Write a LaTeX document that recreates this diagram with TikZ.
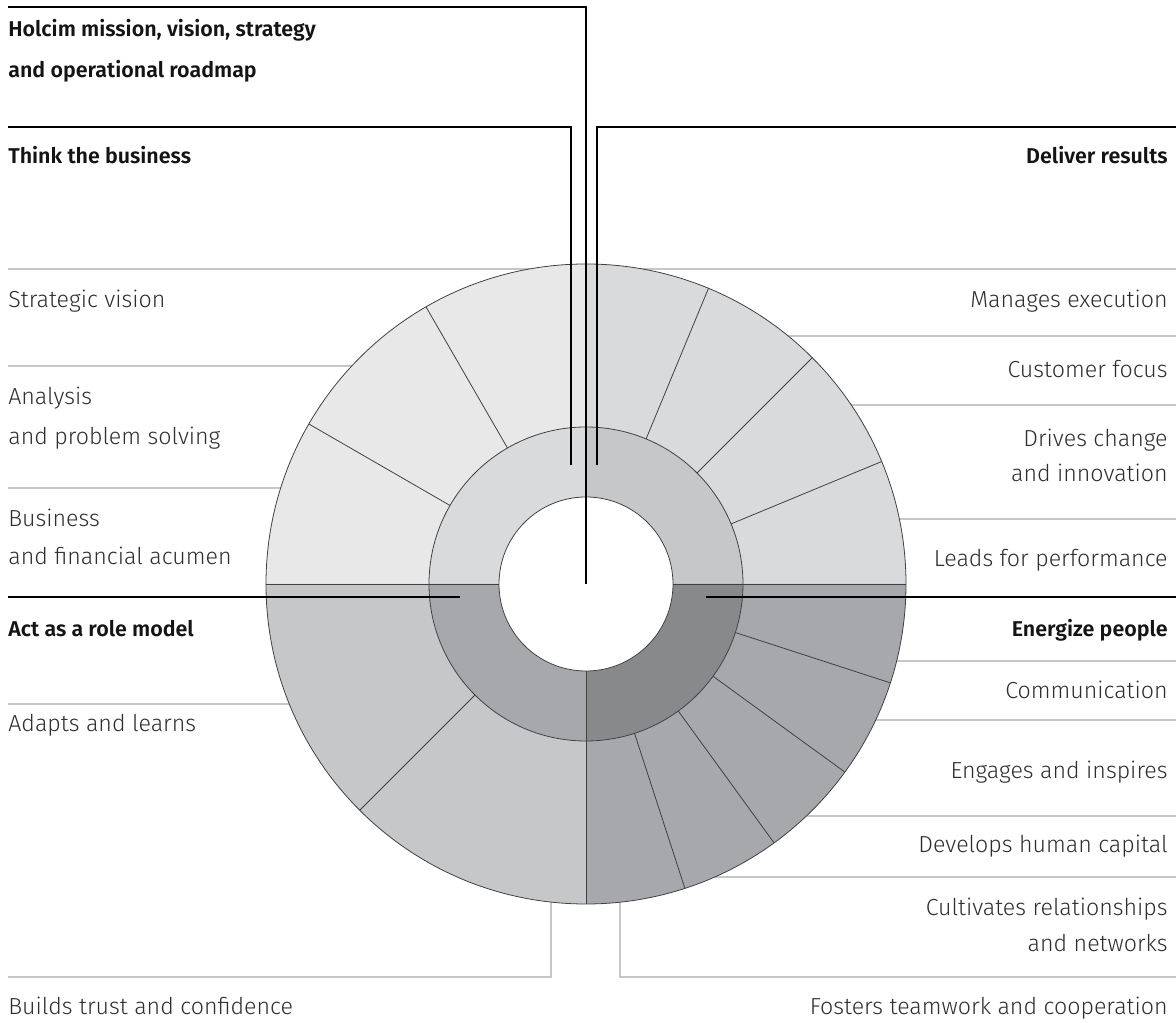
\documentclass[tikz,border=0pt]{standalone}
\usepackage{fontspec}
\setmainfont{Fira Sans}[UprightFont=* Light,BoldFont=* SemiBold]

\definecolor{ring1}{HTML}{E8E8E9}
\definecolor{ring2}{HTML}{D9DADC}
\definecolor{ring3}{HTML}{C6C7C9}
\definecolor{ring4}{HTML}{A7A8AB}
\definecolor{ring5}{HTML}{88898B}

\begin{document}
\begin{tikzpicture}[x=0.02cm,y=0.02cm]
 	\def \rin{87}
 	\def \rmid{157}
 	\def \rout{320}
 	\def \xl{-578}
 	\def \xr{590}
 	\def \xt{582}
 	\tikzstyle{thin-rule}=[draw=black!22,line width=0.6pt]
 	\tikzstyle{seg-rule}=[draw=black!75,line width=0.45pt]
 	\tikzstyle{key-rule}=[draw=black,line width=0.75pt]
 	\tikzstyle{head-l}=[anchor=base west,inner sep=0pt,font=\fontsize{12.2}{15}\selectfont\bfseries,text=black!92]
 	\tikzstyle{head-r}=[anchor=base east,inner sep=0pt,font=\fontsize{12.2}{15}\selectfont\bfseries,text=black!92]
 	\tikzstyle{item-l}=[anchor=base west,inner sep=0pt,font=\fontsize{13.2}{15}\selectfont,text=black!82]
 	\tikzstyle{item-r}=[anchor=base east,inner sep=0pt,font=\fontsize{13.2}{15}\selectfont,text=black!82]
 	\useasboundingbox (-586,-439) rectangle (590,584);
 	% grey rules between the labels
 	\foreach \y in {315,218,96,-120}
 		\draw[thin-rule] (\xl,\y) -- (0,\y);
 	\foreach \y in {315,248,179,65,-77,-136,-232,-293}
 		\draw[thin-rule] (0,\y) -- (\xr,\y);
 	\draw[thin-rule] (\xl,-393) -| (-35,0);
 	\draw[thin-rule] (\xr,-393) -| (34,0);
 	% ring sectors, start/end/inner colour/outer colour
 	\foreach \a/\b/\ci/\co in {90/180/ring2/ring1, 0/90/ring3/ring2, 180/270/ring4/ring3, 270/360/ring5/ring4}{
 		\fill[\ci] (\a:\rin) arc (\a:\b:\rin) -- (\b:\rmid) arc (\b:\a:\rmid) -- cycle;
 		\fill[\co] (\a:\rmid) arc (\a:\b:\rmid) -- (\b:\rout) arc (\b:\a:\rout) -- cycle;
 	}
 	\fill[white] (0,0) circle (\rin);
 	% outlines
 	\foreach \r in {\rin,\rmid,\rout}
 		\draw[seg-rule] (0,0) circle (\r);
 	\foreach \t in {22.5,45,67.5,120,150,225,288,306,324,342}
 		\draw[seg-rule] (\t:\rmid) -- (\t:\rout);
 	\draw[seg-rule] (-\rout,0) -- (-\rin,0) (\rin,0) -- (\rout,0) (0,-\rin) -- (0,-\rout);
 	% key rules
 	\draw[key-rule] (\xl,577) -- (0,577) -- (0,0);
 	\draw[key-rule] (\xl,457) -| (-15,119);
 	\draw[key-rule] (\xr,457) -| (11,119);
 	\draw[key-rule] (\xl,-13) -- (-126,-13);
 	\draw[key-rule] (120,-13) -- (\xr,-13);
 	% headings
 	\node[head-l] (mission-label) at (\xl,547) {Holcim mission, vision, strategy};
 	\node[head-l] (roadmap-label) at (\xl,506) {and operational roadmap};
 	\node[head-l] (think-label) at (\xl,420) {Think the business};
 	\node[head-r] (deliver-label) at (\xt,420) {Deliver results};
 	\node[head-l] (act-label) at (\xl,-53) {Act as a role model};
 	\node[head-r] (energize-label) at (\xt,-53) {Energize people};
 	% left items
 	\node[item-l] (vision-label) at (\xl,276) {Strategic vision};
 	\node[item-l] (analysis-label) at (\xl,179) {Analysis};
 	\node[item-l] (problem-label) at (\xl,139) {and problem solving};
 	\node[item-l] (business-label) at (\xl,57) {Business};
 	\node[item-l] (acumen-label) at (\xl,19) {and financial acumen};
 	\node[item-l] (adapts-label) at (\xl,-148) {Adapts and learns};
 	\node[item-l] (trust-label) at (\xl,-431) {Builds trust and confidence};
 	% right items
 	\node[item-r] (execution-label) at (\xt,276) {Manages execution};
 	\node[item-r] (customer-label) at (\xt,206) {Customer focus};
 	\node[item-r] (change-label) at (\xt,137) {Drives change};
 	\node[item-r] (innovation-label) at (\xt,102) {and innovation};
 	\node[item-r] (performance-label) at (\xt,17) {Leads for performance};
 	\node[item-r] (communication-label) at (\xt,-115) {Communication};
 	\node[item-r] (engages-label) at (\xt,-195) {Engages and inspires};
 	\node[item-r] (capital-label) at (\xt,-269) {Develops human capital};
 	\node[item-r] (relations-label) at (\xt,-332) {Cultivates relationships};
 	\node[item-r] (networks-label) at (\xt,-368) {and networks};
 	\node[item-r] (teamwork-label) at (\xt,-431) {Fosters teamwork and cooperation};
\end{tikzpicture}
\end{document}
